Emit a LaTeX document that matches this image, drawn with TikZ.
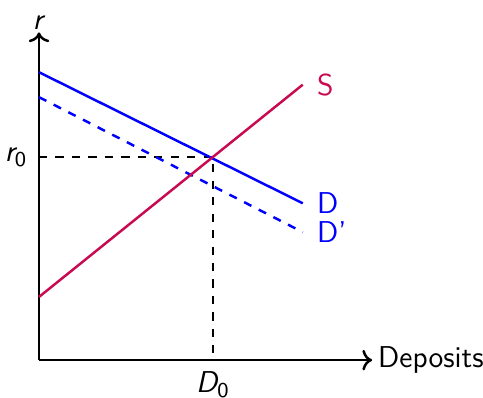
\documentclass[tikz,border=0pt]{standalone}
\usepackage{amsmath}
\usetikzlibrary{arrows.meta,positioning,calc}
\definecolor{SupplyRed}{RGB}{200,10,80}
\definecolor{DemandBlue}{RGB}{0,0,255}
\tikzset{
  axis/.style={->, line width=0.9pt, draw=black},
  guide/.style={dashed, line width=0.9pt, draw=black},
  supply/.style={line width=0.9pt, draw=SupplyRed},
  demand/.style={line width=0.9pt, draw=DemandBlue},
  lbl/.style={inner sep=1pt, font=\fontsize{11}{13}\selectfont\sffamily}
}

\begin{document}
\begin{tikzpicture}[x=1cm,y=1cm]
\useasboundingbox (-0.5,-0.474) rectangle (5.69,4.615);
\coordinate (origin) at (0,0);
\coordinate (xend) at (4.27,0);
\coordinate (yend) at (0,4.2);
\coordinate (s0) at (0,0.81);
\coordinate (s1) at (3.38,3.53);
\coordinate (d0) at (0,3.69);
\coordinate (d1) at (3.38,2.01);
\coordinate (dd0) at (0,3.37);
\coordinate (dd1) at (3.38,1.64);
\coordinate (eq) at (2.23,2.6);
\coordinate (eqx) at (2.23,0);
\coordinate (eqy) at (0,2.6);

\node[lbl, right=1pt of xend] (xlab) {Deposits};
\node[lbl, above=0pt of yend] (ylab) {\textit{r}};
\node[lbl, left=3pt of eqy] (r0) {$\textit{r}_{\textsf{0}}$};
\node[lbl, below=3pt of eqx] (D0) {$\textit{D}_{\textsf{0}}$};
\node[lbl, right=4pt of s1, text=SupplyRed] (slab) {S};
\node[lbl, right=4pt of d1, text=DemandBlue] (dlab) {D};
\node[lbl, right=4pt of dd1, text=DemandBlue] (ddlab) {D'};

\draw[axis] (origin) -- (xend);
\draw[axis] (origin) -- (yend);
\draw[guide] (eqy) -- (eq) -- (eqx);
\draw[demand] (d0) -- (d1);
\draw[demand, dashed] (dd0) -- (dd1);
\draw[supply] (s0) -- (s1);
\end{tikzpicture}
\end{document}
